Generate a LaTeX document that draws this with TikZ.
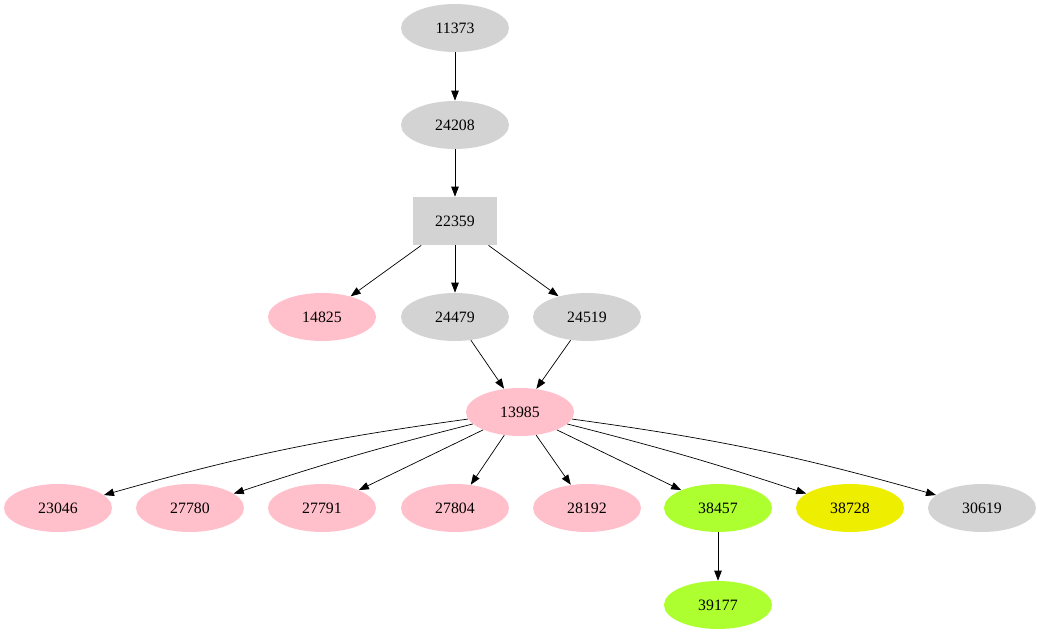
\documentclass[tikz,border=0pt]{standalone}
\usepackage{fontspec}
\setmainfont{Liberation Serif}
\usetikzlibrary{arrows.meta,shapes.geometric}
\definecolor{pinkc}{HTML}{FFC0CB}
\definecolor{grayc}{HTML}{D3D3D3}
\definecolor{greenc}{HTML}{ADFF2F}
\definecolor{yellowc}{HTML}{EEEE00}
\tikzset{
  nd/.style={ellipse, minimum width=2.16cm, minimum height=0.96cm, inner sep=0pt, font=\fontsize{9}{10}\selectfont},
  sq/.style={rectangle, minimum width=1.68cm, minimum height=0.96cm, inner sep=0pt, font=\fontsize{9}{10}\selectfont, fill=grayc},
  arr/.style={-{Triangle[length=0.2cm,width=0.15cm]}, black}
}
\begin{document}
\begin{tikzpicture}[x=0.02cm,y=-0.02cm]
\useasboundingbox (0,0) rectangle (1042,635);

% top chain
\node[nd, fill=grayc] (n11373) at (455,28) {11373};
\node[nd, fill=grayc] (n24208) at (455,125) {24208};
\node[sq] (n22359) at (455,221) {22359};

% second level
\node[nd, fill=pinkc] (n14825) at (322,317) {14825};
\node[nd, fill=grayc] (n24479) at (455,317) {24479};
\node[nd, fill=grayc] (n24519) at (587,317) {24519};

% hub
\node[nd, fill=pinkc] (n13985) at (520,412) {13985};

% bottom row
\node[nd, fill=pinkc] (n23046) at (58,508) {23046};
\node[nd, fill=pinkc] (n27780) at (190,508) {27780};
\node[nd, fill=pinkc] (n27791) at (322,508) {27791};
\node[nd, fill=pinkc] (n27804) at (455,508) {27804};
\node[nd, fill=pinkc] (n28192) at (587,508) {28192};
\node[nd, fill=greenc] (n38457) at (718,508) {38457};
\node[nd, fill=yellowc] (n38728) at (850,508) {38728};
\node[nd, fill=grayc] (n30619) at (982,508) {30619};
\node[nd, fill=greenc] (n39177) at (718,605) {39177};

\draw[arr] (n11373) -- (n24208);
\draw[arr] (n24208) -- (n22359);
\draw[arr] (n22359) -- (n14825);
\draw[arr] (n22359) -- (n24479);
\draw[arr] (n22359) -- (n24519);
\draw[arr] (n24479) -- (n13985);
\draw[arr] (n24519) -- (n13985);
\draw[arr] (n13985) to[bend right=4] (n23046);
\draw[arr] (n13985) to[bend right=2] (n27780);
\draw[arr] (n13985) -- (n27791);
\draw[arr] (n13985) -- (n27804);
\draw[arr] (n13985) -- (n28192);
\draw[arr] (n13985) -- (n38457);
\draw[arr] (n13985) to[bend left=2] (n38728);
\draw[arr] (n13985) to[bend left=4] (n30619);
\draw[arr] (n38457) -- (n39177);
\end{tikzpicture}
\end{document}
